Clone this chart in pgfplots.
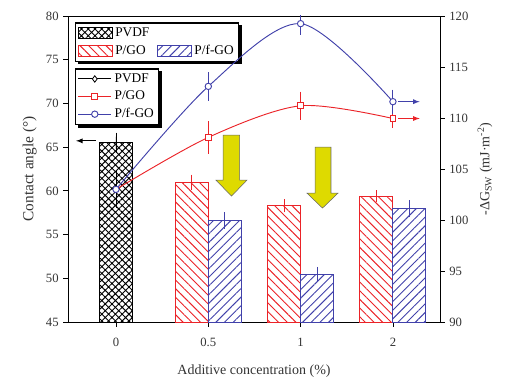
\documentclass[border=0pt]{standalone}
\usepackage{pgfplots}
\pgfplotsset{compat=1.18}
\usepackage{fontspec}
\setmainfont{Liberation Serif}
\usetikzlibrary{patterns,patterns.meta}
\definecolor{myred}{RGB}{235,35,40}
\definecolor{myblue}{RGB}{65,65,170}
\definecolor{myyellow}{RGB}{222,218,0}
\pgfdeclarelayer{background}
\pgfsetlayers{background,main}

\begin{document}
\begin{tikzpicture}
\pgfplotsset{
 every axis/.append style={
  scale only axis, width=279pt, height=229.5pt, at={(0,0)}, anchor=south west,
  xmin=-0.52, xmax=3.51,
  /pgf/number format/assume math mode=true,
  tick label style={font=\fontsize{9.5}{11}\selectfont, text=black!80},
  tick style={black, line width=0.6pt},
  major tick length=3.5pt,
  tick align=outside,
  axis line style={line width=0.7pt},
  label style={font=\fontsize{10.5}{12}\selectfont, text=black!80},
 },
 legsty/.style={
  font=\fontsize{10}{12}\selectfont,
  draw=black, line width=0.9pt, fill=white,
  inner sep=1.5pt, row sep=1pt,
 },
}
% ---------- left axis: bars ----------
\begin{axis}[
  ymin=45, ymax=80, ytick={45,50,...,80},
  xtick={0,1,2,3}, xticklabels={0,0.5,1,2},
  xtick pos=bottom, ytick pos=left,
  xticklabel style={yshift=-5pt},
  ylabel={Contact angle (°)},
  ylabel style={font=\fontsize{11.5}{13}\selectfont},
  xlabel={Additive concentration (\%)},
  xlabel style={yshift=-7pt},
  ybar, bar width=24.75pt,
  legend columns=2,
  legend cell align=left,
  legend image code/.code={\draw[#1, line width=0.7pt] (1pt,-3.9pt) rectangle (26.5pt,3.9pt);},
  legend style={legsty, name=legA, at={(rel axis cs:0.019,0.979)}, anchor=north west,
    /tikz/every even column/.append style={column sep=3pt}},
]
\addplot[bar shift=0pt, draw=black, line width=0.7pt,
  pattern={Hatch[angle=45,distance=3.6pt,line width=0.7pt]}, pattern color=black,
  error bars/.cd, y dir=both, y explicit,
  error bar style={black, line width=0.7pt},
  error mark options={black, mark size=3pt, line width=0.7pt}]
  coordinates {(0,65.5) +- (0,0.7)};
\addlegendentry{PVDF}
\addlegendimage{empty legend}
\addlegendentry{}
\addplot[bar shift=-12.375pt, draw=myred, line width=0.7pt,
  pattern={Lines[angle=-45,distance=4.6pt,line width=0.7pt]}, pattern color=myred,
  error bars/.cd, y dir=both, y explicit,
  error bar style={myred, line width=0.7pt},
  error mark options={myred, mark size=3pt, line width=0.7pt}]
  coordinates {(1,61.0) +- (0,0.4) (2,58.3) +- (0,0.3) (3,59.4) +- (0,0.2)};
\addlegendentry{P/GO}
\addplot[bar shift=12.375pt, draw=myblue, line width=0.7pt,
  pattern={Lines[angle=45,distance=4.6pt,line width=0.7pt]}, pattern color=myblue,
  error bars/.cd, y dir=both, y explicit,
  error bar style={myblue, line width=0.7pt},
  error mark options={myblue, mark size=3pt, line width=0.7pt}]
  coordinates {(1,56.6) +- (0,0.5) (2,50.45) +- (0,0.4) (3,57.95) +- (0,0.5)};
\addlegendentry{P/f-GO}
% yellow arrows
\draw[fill=myyellow, draw=black!60, line width=0.4pt]
  (axis cs:1.16,66.37) -- (axis cs:1.34,66.37) -- (axis cs:1.34,61.23) -- (axis cs:1.419,61.23)
  -- (axis cs:1.251,59.4) -- (axis cs:1.083,61.23) -- (axis cs:1.16,61.23) -- cycle;
\draw[fill=myyellow, draw=black!60, line width=0.4pt]
  (axis cs:2.156,65.0) -- (axis cs:2.329,65.0) -- (axis cs:2.329,59.74) -- (axis cs:2.405,59.74)
  -- (axis cs:2.237,58.03) -- (axis cs:2.069,59.74) -- (axis cs:2.156,59.74) -- cycle;
% left arrow
\draw[-latex, black, line width=0.7pt] (axis cs:-0.217,65.72) -- (axis cs:-0.433,65.72);
\end{axis}
% ---------- right axis: lines ----------
\begin{axis}[
  ymin=90, ymax=120, ytick={90,95,...,120},
  axis x line=none, axis y line*=right,
  ylabel={-ΔG\textsubscript{SW} (mJ·m\textsuperscript{-2})},
  legend cell align=left,
  legend style={legsty, name=legB, at={(rel axis cs:0.019,0.829)}, anchor=north west},
  legend image code/.code={\draw[#1, line width=0.7pt] plot coordinates {(1pt,0pt) (13.5pt,0pt) (26pt,0pt)};},
]
\addlegendimage{black, mark=diamond*, mark size=2.4pt, mark options={fill=white, draw=black, line width=0.6pt}, mark indices={2}}
\addlegendentry{PVDF}
\addlegendimage{myred, mark=square*, mark size=2.2pt, mark options={fill=white, draw=myred}, mark indices={2}}
\addlegendentry{P/GO}
\addlegendimage{myblue, mark=*, mark size=2.4pt, mark options={fill=white, draw=myblue}, mark indices={2}}
\addlegendentry{P/f-GO}
% curves
\addplot[myred, line width=0.7pt, smooth, mark=none, forget plot]
  coordinates {(0,103) (1,108.1) (2,111.2) (3,109.95)};
\addplot[myblue, line width=0.7pt, smooth, mark=none, forget plot]
  coordinates {(0,103) (1,113.1) (2,119.25) (3,111.6)};
% markers with error bars
\addplot[black, only marks, mark=diamond*, mark size=1.5pt, mark options={fill=white}, forget plot,
  error bars/.cd, y dir=both, y explicit,
  error bar style={black, line width=0.7pt},
  error mark options={black, mark size=3pt, line width=0.7pt}]
  coordinates {(0,103) +- (0,1.45)};
\addplot[myred, only marks, mark=square*, mark size=2.2pt, mark options={fill=white, draw=myred, line width=0.7pt}, forget plot,
  error bars/.cd, y dir=both, y explicit,
  error bar style={myred, line width=0.7pt},
  error mark options={myred, mark size=3pt, line width=0.7pt}]
  coordinates {(1,108.1) +- (0,1.2) (2,111.2) +- (0,1.0) (3,109.95) +- (0,0.5)};
\addplot[myblue, only marks, mark=*, mark size=2.4pt, mark options={fill=white, draw=myblue, line width=0.7pt}, forget plot,
  error bars/.cd, y dir=both, y explicit,
  error bar style={myblue, line width=0.7pt},
  error mark options={myblue, mark size=3pt, line width=0.7pt}]
  coordinates {(1,113.1) +- (0,1.0) (2,119.25) +- (0,0.7) (3,111.6) +- (0,0.8)};
\addplot[myblue, only marks, mark=*, mark size=2.4pt, mark options={fill=white, draw=myblue, line width=0.7pt}, forget plot]
  coordinates {(0,103)};
% right arrows
\draw[-latex, myblue, line width=0.7pt] (axis cs:3.055,111.6) -- (axis cs:3.29,111.6);
\draw[-latex, myred, line width=0.7pt] (axis cs:3.055,109.95) -- (axis cs:3.29,109.95);
\end{axis}
\begin{pgfonlayer}{background}
\fill[black] ([shift={(2pt,-2pt)}]legA.south west) rectangle ([shift={(2pt,-2pt)}]legA.north east);
\fill[black] ([shift={(2pt,-2pt)}]legB.south west) rectangle ([shift={(2pt,-2pt)}]legB.north east);
\end{pgfonlayer}
\pgfresetboundingbox
\path (-51pt,-45pt) rectangle (329.25pt,241.5pt);
\end{tikzpicture}
\end{document}
